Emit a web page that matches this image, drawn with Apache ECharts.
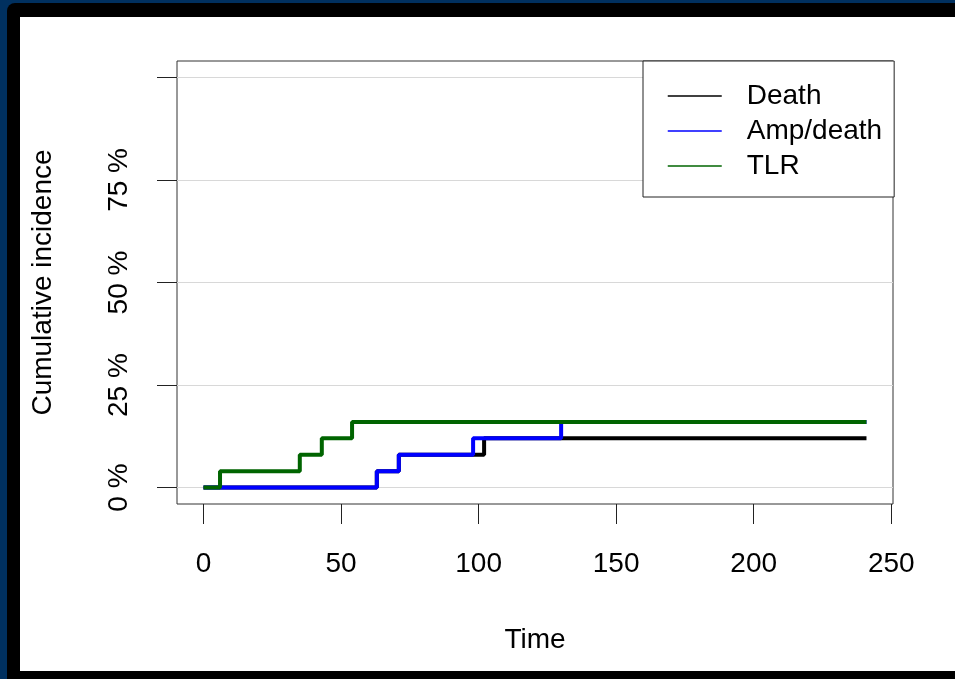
<!DOCTYPE html>
<html>
<head>
<meta charset="utf-8">
<script src="https://cdn.jsdelivr.net/npm/echarts@6/dist/echarts.min.js"></script>
<style>
html,body{margin:0;padding:0;width:955px;height:679px;overflow:hidden;background:#00305f;}
#outer{position:absolute;left:7px;top:3px;width:948px;height:676px;background:#000;border-top-left-radius:8px;}
#inner{position:absolute;left:20px;top:17px;width:935px;height:654px;background:#fff;}
#chart{position:absolute;left:0;top:0;width:955px;height:679px;}
</style>
</head>
<body>
<div id="outer"></div>
<div id="inner"></div>
<div id="chart"></div>
<script>
// Series data (time, cumulative incidence %)
const deathTimes = [0, 63, 71, 102, 241];
const deathValues = [0, 4, 8, 12, 12];
const ampTimes = [0, 63, 71, 98, 130, 241];
const ampValues = [0, 4, 8, 12, 16, 16];
const tlrTimes = [0, 6, 35, 43, 54, 241];
const tlrValues = [0, 4, 8, 12, 16, 16];
const seriesNames = ['Death', 'Amp/death', 'TLR'];
const xTicks = [0, 50, 100, 150, 200, 250];
const yTicks = [0, 25, 50, 75, 100];
const yLabels = [0, 25, 50, 75];

const pairs = (t, v) => t.map((x, i) => [x, v[i]]);
const FONT = "'Liberation Sans', Arial, sans-serif";
const chart = echarts.init(document.getElementById('chart'), null, {renderer: 'canvas'});
const lineCommon = {type: 'line', step: 'end', symbol: 'none', showSymbol: false, silent: true, animation: false};

chart.setOption({
  backgroundColor: 'transparent',
  animation: false,
  textStyle: {fontFamily: FONT},
  grid: {left: 177, top: 61, right: 62, bottom: 175, show: true, borderColor: '#333', borderWidth: 1, backgroundColor: 'transparent'},
  xAxis: {
    type: 'value', min: -9.64, max: 250.64,
    name: 'Time', nameLocation: 'middle', nameGap: 122,
    nameTextStyle: {fontSize: 28, color: '#000', fontFamily: FONT},
    axisLine: {show: false, onZero: false},
    axisTick: {show: true, inside: false, length: 20, customValues: xTicks, lineStyle: {color: '#222', width: 1}},
    axisLabel: {customValues: xTicks, margin: 46, fontSize: 28, color: '#000', fontFamily: FONT},
    splitLine: {show: false}
  },
  yAxis: {
    type: 'value', min: -4, max: 104,
    name: 'Cumulative incidence', nameLocation: 'middle', nameGap: 120, nameRotate: 90,
    nameTextStyle: {fontSize: 28, color: '#000', fontFamily: FONT},
    axisLine: {show: false, onZero: false},
    axisTick: {show: true, inside: false, length: 20, customValues: yTicks, lineStyle: {color: '#222', width: 1}},
    axisLabel: {customValues: yLabels, rotate: 90, margin: 44, fontSize: 28, color: '#000', fontFamily: FONT,
      formatter: v => v + ' %'},
    splitLine: {show: false}
  },
  legend: {
    orient: 'vertical', left: 643, top: 61, z: 10,
    padding: [21, 12, 17, 24],
    backgroundColor: '#ffffff',
    borderColor: '#222', borderWidth: 1,
    itemWidth: 54, itemHeight: 28, itemGap: 7,
    lineStyle: {width: 1.5},
    itemStyle: {opacity: 0},
    textStyle: {fontSize: 28, color: '#000', fontFamily: FONT, padding: [0, 0, 0, 20], lineHeight: 28},
    data: seriesNames,
    selectedMode: false
  },
  series: [
    {type: 'line', data: [], silent: true, z: 0,
      markLine: {silent: true, z: 0, symbol: 'none', label: {show: false}, animation: false,
        lineStyle: {color: '#d8d8d8', width: 1.2, type: 'solid'},
        data: yTicks.map(v => ({yAxis: v}))}},
    Object.assign({}, lineCommon, {name: seriesNames[0], z: 3, data: pairs(deathTimes, deathValues), color: '#000000', lineStyle: {width: 4, color: '#000000'}}),
    Object.assign({}, lineCommon, {name: seriesNames[1], z: 4, data: pairs(ampTimes, ampValues), color: '#0000ff', lineStyle: {width: 4, color: '#0000ff'}}),
    Object.assign({}, lineCommon, {name: seriesNames[2], z: 6, data: pairs(tlrTimes, tlrValues), color: '#006400', lineStyle: {width: 4, color: '#006400'}})
  ]
});
</script>
</body>
</html>
